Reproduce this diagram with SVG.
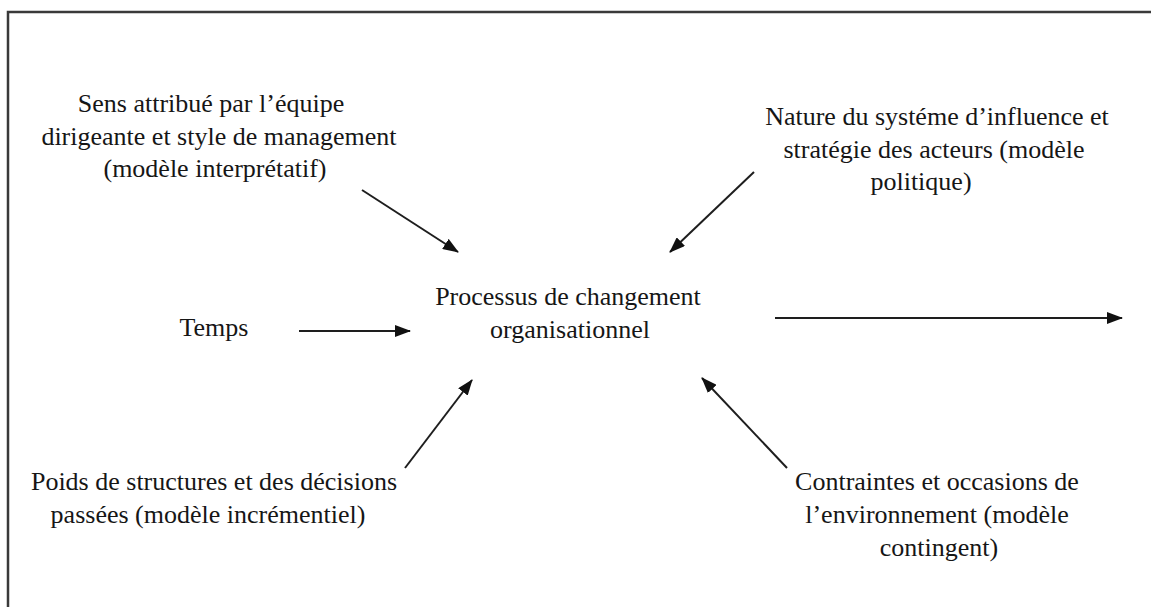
<svg xmlns="http://www.w3.org/2000/svg" width="1151" height="607" viewBox="0 0 1151 607">
  <style>
    .lbl { font-family: "Liberation Serif", "Times New Roman", serif; font-size: 26px; fill: #161616; text-anchor: middle; }
    .frame { fill: none; stroke: #3a3a3a; stroke-width: 2.5; }
    .conn { fill: none; stroke: #1e1e1e; stroke-width: 2; marker-end: url(#head); }
  </style>
  <defs>
    <marker id="head" viewBox="0 0 16 12" refX="15" refY="6" markerWidth="16" markerHeight="12" markerUnits="userSpaceOnUse" orient="auto">
      <path d="M0,0 L16,6 L0,12 Z" fill="#111"/>
    </marker>
  </defs>

  <rect width="1151" height="607" fill="#ffffff"/>
  <!-- outer frame, open to the right and bottom edges -->
  <path class="frame" d="M8,620 V12 H1160"/>

  <g id="center">
    <text class="lbl" x="568" y="305">Processus de changement</text>
    <text class="lbl" x="570" y="338">organisationnel</text>
  </g>

  <g id="interpretatif">
    <text class="lbl" x="211" y="112">Sens attribué par l’équipe</text>
    <text class="lbl" x="219" y="145">dirigeante et style de management</text>
    <text class="lbl" x="215" y="177">(modèle interprétatif)</text>
  </g>

  <g id="politique">
    <text class="lbl" x="937" y="125">Nature du systéme d’influence et</text>
    <text class="lbl" x="934" y="158">stratégie des acteurs (modèle</text>
    <text class="lbl" x="921" y="190">politique)</text>
  </g>

  <g id="temps">
    <text class="lbl" x="214" y="336">Temps</text>
  </g>

  <g id="incrementiel">
    <text class="lbl" x="214" y="490">Poids de structures et des décisions</text>
    <text class="lbl" x="208" y="523">passées (modèle incrémentiel)</text>
  </g>

  <g id="contingent">
    <text class="lbl" x="937" y="490">Contraintes et occasions de</text>
    <text class="lbl" x="937" y="523">l’environnement (modèle</text>
    <text class="lbl" x="939" y="556">contingent)</text>
  </g>

  <g id="connectors">
    <line class="conn" x1="362" y1="190" x2="458" y2="252"/>
    <line class="conn" x1="754" y1="172" x2="670" y2="252"/>
    <line class="conn" x1="299" y1="331" x2="410" y2="331"/>
    <line class="conn" x1="775" y1="318" x2="1122" y2="318"/>
    <line class="conn" x1="405" y1="468" x2="472" y2="380"/>
    <line class="conn" x1="787" y1="468" x2="702" y2="378"/>
  </g>
</svg>
